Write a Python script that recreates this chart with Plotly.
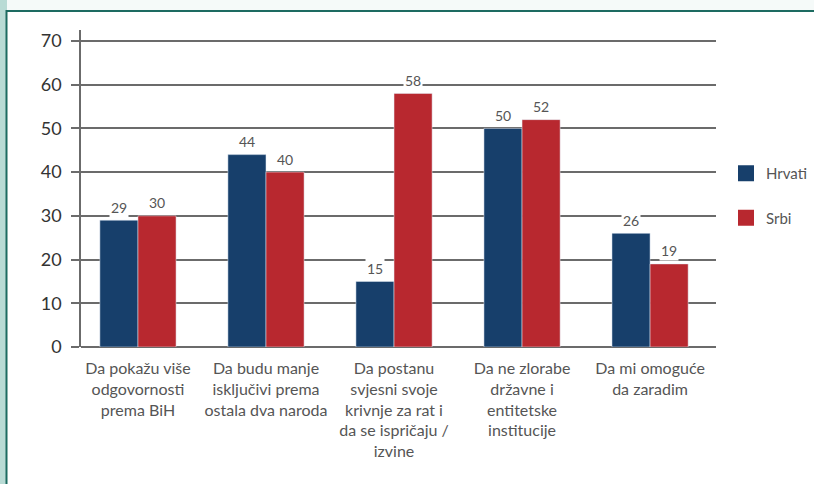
import plotly.graph_objects as go

categories = [
    'Da pokažu više<br>odgovornosti<br>prema BiH',
    'Da budu manje<br>isključivi prema<br>ostala dva naroda',
    'Da postanu<br>svjesni svoje<br>krivnje za rat i<br>da se ispričaju /<br>izvine',
    'Da ne zlorabe<br>državne i<br>entitetske<br>institucije',
    'Da mi omoguće<br>da zaradim',
]
hrvati = [29, 44, 15, 50, 26]
srbi = [30, 40, 58, 52, 19]

blue = '#173f6b'
red = '#b8282f'
grey = '#6b6b6b'
font = 'Lato, Noto Sans, sans-serif'

# plot area in pixels (for placing the frame around it)
L, R, T, B = 81, 98, 30, 137
W, H = 814, 484
pw, ph = W - L - R, H - T - B


def px(x):
    return (x - L) / pw


def py(y):
    return (H - B - y) / ph


fig = go.Figure()
fig.add_trace(go.Bar(x=categories, y=hrvati, name='Hrvati', marker_color=blue,
                     showlegend=False))
fig.add_trace(go.Bar(x=categories, y=srbi, name='Srbi', marker_color=red,
                     showlegend=False))

# legend proxies (bigger squares than the bar legend symbol)
for name, col, grp in [('Hrvati', blue, 'a'), ('Srbi', red, 'b')]:
    fig.add_trace(go.Scatter(x=[None], y=[None], mode='markers', name=name,
                             legendgroup=grp,
                             marker=dict(symbol='square', size=20, color=col)))

# value labels with white background
for vals, shift in [(hrvati, -19), (srbi, 19)]:
    for c, v in zip(categories, vals):
        fig.add_annotation(x=c, y=v, text=str(v), xshift=shift, yshift=13,
                           showarrow=False, bgcolor='white',
                           font=dict(size=14, color='#555555', family=font))

shapes = [
    # outside strip + white card with teal frame
    dict(type='rect', xref='paper', yref='paper', x0=px(0), x1=px(W),
         y0=py(H), y1=py(0), fillcolor='#f5faf9', line_width=0, layer='below'),
    dict(type='rect', xref='paper', yref='paper', x0=px(0), x1=px(7),
         y0=py(H), y1=py(0), fillcolor='#b9dbd5', line_width=0, layer='below'),
    dict(type='rect', xref='paper', yref='paper', x0=px(6.5), x1=px(W + 5),
         y0=py(H + 5), y1=py(11), fillcolor='white',
         line=dict(color='#1d6b61', width=2), layer='below'),
]

fig.update_layout(
    width=W, height=H,
    margin=dict(l=L, r=R, t=T, b=B, autoexpand=False),
    paper_bgcolor='white', plot_bgcolor='rgba(0,0,0,0)',
    barmode='group', bargap=0.405, bargroupgap=0,
    shapes=shapes,
    font=dict(family=font, color='#555555'),
    legend=dict(x=px(726), y=py(157), xanchor='left', yanchor='top',
                tracegroupgap=22, font=dict(size=15, color='#555555'),
                bgcolor='rgba(0,0,0,0)'),
    xaxis=dict(range=[-0.445, 4.515], showgrid=False, showline=False, ticks='',
               automargin=False, ticklabelstandoff=10,
               tickfont=dict(size=16, color='#555555', family=font)),
    yaxis=dict(range=[0, 72.5], dtick=10, showgrid=True, gridcolor=grey,
               gridwidth=1.5, zeroline=True, zerolinecolor=grey, zerolinewidth=1.5,
               showline=True, linecolor=grey, linewidth=1.5, automargin=False,
               ticks='outside', ticklen=8, tickcolor=grey, tickwidth=1.5,
               tickfont=dict(size=18, color='#333333', family=font),
               ticklabelstandoff=6),
)

fig.write_html('out.html', config={'displayModeBar': False},
               post_script="document.body.style.margin='0';")
